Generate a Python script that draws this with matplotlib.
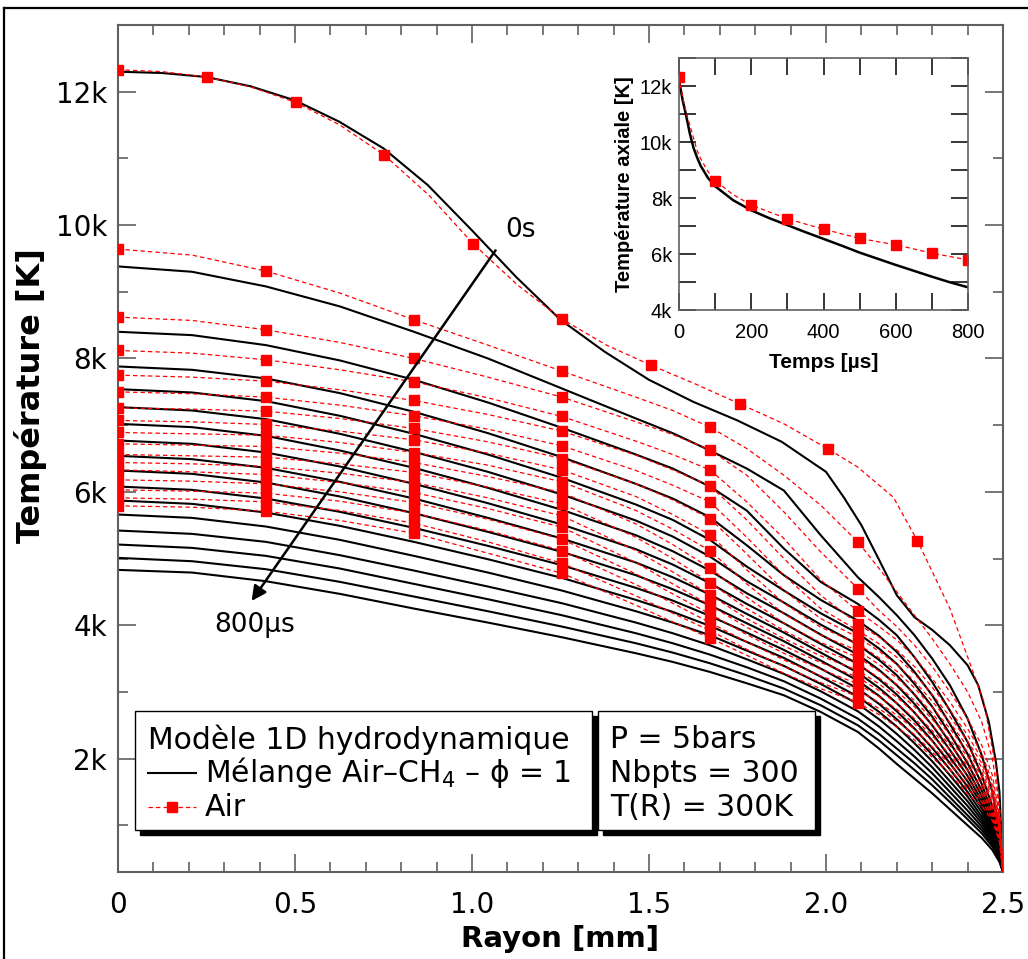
import numpy as np
import matplotlib
matplotlib.use("Agg")
import matplotlib.pyplot as plt
from matplotlib.ticker import MultipleLocator, FuncFormatter
from matplotlib.patches import Rectangle
from matplotlib.lines import Line2D

W, H = 1028, 959

# radial grid [mm]; the air markers sit every 50 grid points (0.418 mm)
R_GRID = [0, 0.209, 0.418, 0.627, 0.836, 1.045, 1.254, 1.463, 1.567, 1.672, 1.776, 1.881,
          1.985, 2.09, 2.15, 2.2, 2.25, 2.3, 2.35, 2.4, 2.44, 2.47, 2.49, 2.5]
AIR_MARK_IDX = [0, 2, 4, 6, 9, 13]

TIMES_US = list(range(50, 801, 50))

# Air-CH4 mixture at t = 0 s (own, finer sampling)
R_MIX0 = [0, 0.125, 0.25, 0.375, 0.5, 0.625, 0.75, 0.875, 1.0, 1.125, 1.25, 1.375, 1.5,
          1.625, 1.75, 1.875, 2.0, 2.05, 2.1, 2.15, 2.2, 2.25, 2.3, 2.35, 2.4, 2.43, 2.46,
          2.48, 2.49, 2.5]
MIX0_T = [12.30, 12.28, 12.22, 12.08, 11.87, 11.55, 11.15, 10.60, 9.92, 9.22, 8.58, 8.10,
          7.68, 7.35, 7.07, 6.75, 6.30, 5.92, 5.50, 4.98, 4.45, 4.12, 3.93, 3.70, 3.40, 3.10,
          2.55, 1.95, 1.50, 0.30]

# Air-CH4 mixture, temperature [kK], rows for 50 .. 800 us
MIX_T = [
    [9.38, 9.30, 9.08, 8.78, 8.40, 8.00, 7.55, 7.10, 6.88, 6.62, 6.35, 6.02, 5.35, 4.72, 4.42, 4.15, 3.85, 3.50, 3.10, 2.60, 2.05, 1.50, 0.90, 0.30],
    [8.40, 8.35, 8.20, 7.97, 7.68, 7.34, 6.96, 6.56, 6.35, 6.08, 5.72, 5.15, 4.65, 4.32, 4.08, 3.85, 3.52, 3.15, 2.72, 2.25, 1.75, 1.28, 0.80, 0.30],
    [7.88, 7.83, 7.70, 7.48, 7.20, 6.88, 6.52, 6.12, 5.90, 5.62, 5.20, 4.75, 4.38, 4.07, 3.84, 3.60, 3.30, 2.95, 2.52, 2.07, 1.62, 1.18, 0.75, 0.30],
    [7.54, 7.49, 7.36, 7.14, 6.87, 6.56, 6.21, 5.81, 5.58, 5.28, 4.88, 4.52, 4.18, 3.88, 3.65, 3.42, 3.12, 2.78, 2.37, 1.93, 1.52, 1.11, 0.72, 0.30],
    [7.27, 7.22, 7.09, 6.87, 6.60, 6.30, 5.96, 5.57, 5.33, 5.03, 4.66, 4.34, 4.01, 3.71, 3.48, 3.25, 2.96, 2.63, 2.24, 1.83, 1.44, 1.06, 0.69, 0.30],
    [7.02, 6.97, 6.84, 6.62, 6.36, 6.06, 5.73, 5.35, 5.11, 4.82, 4.48, 4.18, 3.86, 3.56, 3.33, 3.10, 2.82, 2.50, 2.13, 1.74, 1.37, 1.01, 0.67, 0.30],
    [6.77, 6.72, 6.59, 6.38, 6.12, 5.83, 5.51, 5.14, 4.91, 4.63, 4.32, 4.03, 3.72, 3.42, 3.19, 2.96, 2.69, 2.38, 2.02, 1.66, 1.31, 0.97, 0.64, 0.30],
    [6.54, 6.49, 6.36, 6.15, 5.90, 5.61, 5.30, 4.94, 4.72, 4.46, 4.17, 3.89, 3.59, 3.29, 3.06, 2.83, 2.57, 2.27, 1.93, 1.58, 1.25, 0.93, 0.62, 0.30],
    [6.32, 6.27, 6.14, 5.93, 5.68, 5.40, 5.10, 4.75, 4.54, 4.30, 4.03, 3.76, 3.47, 3.17, 2.94, 2.71, 2.45, 2.16, 1.84, 1.50, 1.19, 0.89, 0.60, 0.30],
    [6.08, 6.03, 5.90, 5.70, 5.46, 5.19, 4.90, 4.56, 4.37, 4.14, 3.89, 3.63, 3.35, 3.05, 2.82, 2.59, 2.34, 2.06, 1.75, 1.43, 1.13, 0.85, 0.58, 0.30],
    [5.87, 5.82, 5.69, 5.49, 5.25, 4.99, 4.71, 4.38, 4.20, 3.99, 3.75, 3.51, 3.23, 2.93, 2.70, 2.48, 2.23, 1.96, 1.66, 1.36, 1.08, 0.82, 0.56, 0.30],
    [5.66, 5.61, 5.48, 5.28, 5.04, 4.79, 4.52, 4.21, 4.04, 3.85, 3.62, 3.39, 3.12, 2.82, 2.59, 2.37, 2.13, 1.87, 1.58, 1.29, 1.03, 0.79, 0.54, 0.30],
    [5.42, 5.37, 5.25, 5.05, 4.82, 4.58, 4.33, 4.04, 3.88, 3.70, 3.49, 3.27, 3.01, 2.71, 2.48, 2.26, 2.03, 1.78, 1.50, 1.22, 0.98, 0.75, 0.52, 0.30],
    [5.21, 5.16, 5.04, 4.85, 4.62, 4.39, 4.15, 3.88, 3.73, 3.56, 3.37, 3.16, 2.90, 2.60, 2.37, 2.15, 1.93, 1.69, 1.42, 1.15, 0.93, 0.72, 0.50, 0.30],
    [5.01, 4.96, 4.84, 4.65, 4.43, 4.21, 3.98, 3.73, 3.59, 3.43, 3.25, 3.05, 2.80, 2.50, 2.27, 2.05, 1.83, 1.60, 1.35, 1.09, 0.88, 0.68, 0.48, 0.30],
    [4.83, 4.79, 4.66, 4.47, 4.25, 4.04, 3.82, 3.58, 3.45, 3.30, 3.13, 2.95, 2.70, 2.40, 2.15, 1.92, 1.70, 1.48, 1.24, 1.00, 0.81, 0.63, 0.45, 0.30],
]

# Air, temperature [kK], rows for 50 .. 800 us
AIR_T = [
    [9.64, 9.55, 9.31, 8.98, 8.58, 8.20, 7.81, 7.42, 7.22, 6.97, 6.65, 6.25, 5.80, 5.25, 4.85, 4.50, 4.15, 3.80, 3.42, 3.00, 2.55, 2.00, 1.30, 0.30],
    [8.62, 8.57, 8.43, 8.24, 8.00, 7.72, 7.42, 7.05, 6.86, 6.63, 6.25, 5.70, 5.10, 4.55, 4.22, 3.98, 3.70, 3.38, 3.00, 2.60, 2.20, 1.75, 1.15, 0.30],
    [8.12, 8.08, 7.98, 7.83, 7.65, 7.41, 7.13, 6.76, 6.56, 6.33, 5.85, 5.30, 4.68, 4.21, 3.98, 3.78, 3.52, 3.20, 2.85, 2.45, 2.08, 1.65, 1.10, 0.30],
    [7.75, 7.72, 7.66, 7.53, 7.37, 7.16, 6.91, 6.55, 6.33, 6.09, 5.58, 5.00, 4.45, 4.02, 3.82, 3.63, 3.38, 3.07, 2.73, 2.35, 2.00, 1.58, 1.06, 0.30],
    [7.50, 7.47, 7.42, 7.30, 7.14, 6.94, 6.69, 6.32, 6.10, 5.85, 5.32, 4.75, 4.25, 3.92, 3.72, 3.52, 3.27, 2.96, 2.63, 2.26, 1.93, 1.53, 1.03, 0.30],
    [7.26, 7.24, 7.21, 7.10, 6.95, 6.75, 6.50, 6.12, 5.88, 5.60, 5.07, 4.52, 4.10, 3.82, 3.61, 3.41, 3.16, 2.86, 2.54, 2.18, 1.87, 1.49, 1.00, 0.30],
    [7.07, 7.05, 7.01, 6.91, 6.78, 6.58, 6.33, 5.93, 5.66, 5.36, 4.83, 4.33, 3.97, 3.72, 3.51, 3.31, 3.06, 2.77, 2.45, 2.10, 1.80, 1.44, 0.97, 0.30],
    [6.89, 6.87, 6.85, 6.74, 6.59, 6.40, 6.15, 5.72, 5.44, 5.12, 4.62, 4.17, 3.85, 3.62, 3.41, 3.21, 2.97, 2.68, 2.36, 2.03, 1.74, 1.40, 0.94, 0.30],
    [6.72, 6.70, 6.68, 6.58, 6.44, 6.23, 5.99, 5.52, 5.21, 4.86, 4.42, 4.03, 3.74, 3.52, 3.31, 3.11, 2.87, 2.59, 2.28, 1.96, 1.68, 1.35, 0.91, 0.30],
    [6.56, 6.54, 6.52, 6.42, 6.29, 6.07, 5.82, 5.32, 5.00, 4.64, 4.25, 3.92, 3.64, 3.42, 3.21, 3.01, 2.78, 2.50, 2.20, 1.89, 1.62, 1.31, 0.88, 0.30],
    [6.44, 6.42, 6.38, 6.28, 6.14, 5.91, 5.64, 5.12, 4.80, 4.46, 4.10, 3.80, 3.54, 3.32, 3.12, 2.92, 2.69, 2.42, 2.13, 1.82, 1.57, 1.27, 0.85, 0.30],
    [6.33, 6.30, 6.26, 6.14, 5.99, 5.75, 5.47, 4.94, 4.62, 4.30, 3.97, 3.69, 3.44, 3.22, 3.02, 2.83, 2.60, 2.34, 2.06, 1.75, 1.51, 1.23, 0.83, 0.30],
    [6.18, 6.16, 6.12, 6.00, 5.84, 5.59, 5.29, 4.77, 4.47, 4.17, 3.86, 3.58, 3.34, 3.12, 2.93, 2.74, 2.52, 2.26, 1.98, 1.68, 1.46, 1.19, 0.81, 0.30],
    [6.03, 6.01, 5.98, 5.86, 5.68, 5.42, 5.12, 4.61, 4.33, 4.04, 3.75, 3.48, 3.24, 3.03, 2.84, 2.65, 2.44, 2.18, 1.91, 1.61, 1.40, 1.15, 0.79, 0.30],
    [5.91, 5.89, 5.85, 5.72, 5.53, 5.25, 4.93, 4.44, 4.18, 3.92, 3.64, 3.38, 3.14, 2.93, 2.75, 2.56, 2.36, 2.10, 1.84, 1.54, 1.35, 1.11, 0.77, 0.30],
    [5.79, 5.77, 5.71, 5.57, 5.38, 5.08, 4.78, 4.30, 4.05, 3.81, 3.55, 3.28, 3.05, 2.84, 2.66, 2.47, 2.28, 2.02, 1.77, 1.47, 1.29, 1.07, 0.75, 0.30],
]

# Air at t = 0 s has its own sampling (markers every ~0.25 mm)
R_AIR0 = [0, 0.125, 0.251, 0.376, 0.502, 0.627, 0.752, 0.878, 1.003, 1.129, 1.254, 1.380,
          1.505, 1.630, 1.756, 1.881, 2.007, 2.09, 2.19, 2.258, 2.35, 2.41, 2.445, 2.48, 2.5]
AIR0_T = [12.33, 12.30, 12.22, 12.07, 11.84, 11.50, 11.05, 10.45, 9.72, 9.10, 8.59, 8.20,
          7.90, 7.62, 7.32, 7.02, 6.64, 6.37, 5.92, 5.27, 4.25, 3.38, 2.87, 1.86, 0.30]
AIR0_MARK_IDX = [0, 2, 4, 6, 8, 10, 12, 14, 16, 19]

# inset: axial temperature vs time
INSET_TIME = [0, 10, 20, 30, 40, 50, 60, 80, 100, 150, 200, 250, 300, 350, 400,
              450, 500, 550, 600, 650, 700, 750, 800]
INSET_MIX = [12.2, 11.5, 10.93, 10.3, 9.8, 9.45, 9.15, 8.72, 8.42, 7.92, 7.56, 7.28, 7.03,
             6.78, 6.54, 6.30, 6.05, 5.83, 5.61, 5.40, 5.19, 4.99, 4.81]
INSET_AIR = [12.32, 11.6, 11.05, 10.6, 10.15, 9.7, 9.4, 8.95, 8.62, 8.12, 7.75, 7.5, 7.26,
             7.07, 6.89, 6.72, 6.56, 6.44, 6.33, 6.18, 6.03, 5.91, 5.79]
INSET_MARK_IDX = [0, 8, 10, 12, 14, 16, 18, 20, 22]

FRAME = "#606060"
DASH = (0, (3.5, 2.5))
AIR_STYLE = dict(color="red", lw=0.9, ls=DASH, marker="s", ms=7, mec="red", mfc="red", zorder=3)
ARIAL = ["Liberation Sans", "DejaVu Sans"]


def fx(x):
    return x / W


def fy(y):
    return 1 - y / H


fig = plt.figure(figsize=(W / 100, H / 100), dpi=100)

# outer frame of the picture
fig.add_artist(Line2D([fx(4), fx(4)], [0, fy(8)], transform=fig.transFigure, color="black", lw=1.6))
fig.add_artist(Line2D([fx(4), 1], [fy(8), fy(8)], transform=fig.transFigure, color="black", lw=1.6))

ax = fig.add_axes([fx(118), fy(872), (1003 - 118) / W, (872 - 25) / H])

ax.plot(R_MIX0, np.array(MIX0_T) * 1000, color="black", lw=1.5, zorder=2)
for row in MIX_T:
    ax.plot(R_GRID, np.array(row) * 1000, color="black", lw=1.5, zorder=2)
ax.plot(R_AIR0, np.array(AIR0_T) * 1000, markevery=AIR0_MARK_IDX, **AIR_STYLE)
for row in AIR_T:
    ax.plot(R_GRID, np.array(row) * 1000, markevery=AIR_MARK_IDX, **AIR_STYLE)

ax.set_xlim(0, 2.5)
ax.set_ylim(300, 13000)
ax.xaxis.set_major_locator(MultipleLocator(0.5))
ax.xaxis.set_minor_locator(MultipleLocator(0.1))
ax.yaxis.set_major_locator(MultipleLocator(2000))
ax.yaxis.set_minor_locator(MultipleLocator(1000))
ax.xaxis.set_major_formatter(FuncFormatter(lambda v, p: "0" if abs(v) < 1e-9 else f"{v:.1f}"))
ax.yaxis.set_major_formatter(FuncFormatter(lambda v, p: f"{int(round(v / 1000))}k"))
ax.tick_params(which="both", direction="in", top=True, right=True, color=FRAME, width=1.2)
ax.tick_params(which="major", length=13)
ax.tick_params(which="minor", length=7)
ax.tick_params(axis="y", which="major", labelsize=20, pad=8)
ax.tick_params(axis="x", which="major", labelsize=20, pad=14)
for sp in ax.spines.values():
    sp.set_color(FRAME)
    sp.set_linewidth(1.5)

ax.set_xlabel("Rayon [mm]", fontsize=21, fontweight="bold")
ax.set_ylabel("Température [K]", fontsize=23, fontweight="bold")
ax.xaxis.set_label_coords(0.5, -0.063)
ax.yaxis.set_label_coords(-0.08, 0.563)

# time arrow
ax.annotate("", xy=(0.373, 4330), xytext=(1.071, 9655),
            arrowprops=dict(arrowstyle="-|>", color="black", lw=1.8, mutation_scale=22))
ax.text(1.136, 9925, "0s", fontsize=19, ha="center", va="center")
ax.text(0.387, 4000, "800µs", fontsize=19, ha="center", va="center")

# legend boxes with drop shadow
for x0, x1 in [(135, 592), (598, 815)]:
    fig.add_artist(Rectangle((fx(x0 + 5), fy(835)), (x1 - x0) / W, (835 - 716) / H,
                             transform=fig.transFigure, facecolor="black", edgecolor="black", zorder=5))
    fig.add_artist(Rectangle((fx(x0), fy(830)), (x1 - x0) / W, (830 - 711) / H,
                             transform=fig.transFigure, facecolor="white", edgecolor="black",
                             lw=1.0, zorder=6))

fs_leg = 21.5
fig.text(fx(148), fy(740), "Modèle 1D hydrodynamique", fontsize=fs_leg, va="center", zorder=7)
fig.add_artist(Line2D([fx(148), fx(196)], [fy(773), fy(773)], transform=fig.transFigure,
                      color="black", lw=1.5, zorder=7))
fig.text(fx(205), fy(773), "Mélange Air–CH$_4$ – ϕ = 1", fontsize=fs_leg, va="center", zorder=7)
fig.add_artist(Line2D([fx(148), fx(196)], [fy(807), fy(807)], transform=fig.transFigure,
                      color="red", lw=0.9, ls=DASH, zorder=7))
fig.add_artist(Line2D([fx(172)], [fy(807)], transform=fig.transFigure, color="red",
                      marker="s", ms=7, zorder=8))
fig.text(fx(205), fy(807), "Air", fontsize=fs_leg, va="center", zorder=7)

fig.text(fx(610), fy(740), "P = 5bars", fontsize=fs_leg, va="center", zorder=7)
fig.text(fx(610), fy(773), "Nbpts = 300", fontsize=fs_leg, va="center", zorder=7)
fig.text(fx(610), fy(807), "T(R) = 300K", fontsize=fs_leg, va="center", zorder=7)

# inset: axial temperature
axi = fig.add_axes([fx(679), fy(310), (968 - 679) / W, (310 - 58) / H])
axi.set_facecolor("white")
axi.plot(INSET_TIME, np.array(INSET_MIX) * 1000, color="black", lw=1.8)
axi.plot(INSET_TIME, np.array(INSET_AIR) * 1000, color="red", lw=0.9, ls=DASH,
         marker="s", ms=7, markevery=INSET_MARK_IDX)
axi.set_xlim(0, 800)
axi.set_ylim(4000, 13000)
axi.xaxis.set_major_locator(MultipleLocator(200))
axi.xaxis.set_minor_locator(MultipleLocator(100))
axi.yaxis.set_major_locator(MultipleLocator(2000))
axi.yaxis.set_minor_locator(MultipleLocator(1000))
axi.yaxis.set_major_formatter(FuncFormatter(lambda v, p: f"{int(round(v / 1000))}k"))
axi.tick_params(which="both", direction="in", top=True, right=True, length=12, width=1.1,
                labelsize=14.5)
axi.tick_params(axis="x", pad=9)
axi.tick_params(axis="y", pad=5)
for lab in axi.get_xticklabels() + axi.get_yticklabels():
    lab.set_family(ARIAL)
for sp in axi.spines.values():
    sp.set_color(FRAME)
    sp.set_linewidth(1.2)
axi.set_xlabel("Temps [µs]", fontsize=15, fontweight="bold", family=ARIAL)
axi.set_ylabel("Température axiale [K]", fontsize=14.5, fontweight="bold", family=ARIAL)
axi.xaxis.set_label_coords(0.5, -0.17)
axi.yaxis.set_label_coords(-0.155, 0.5)

fig.savefig("out.png", dpi=100)
